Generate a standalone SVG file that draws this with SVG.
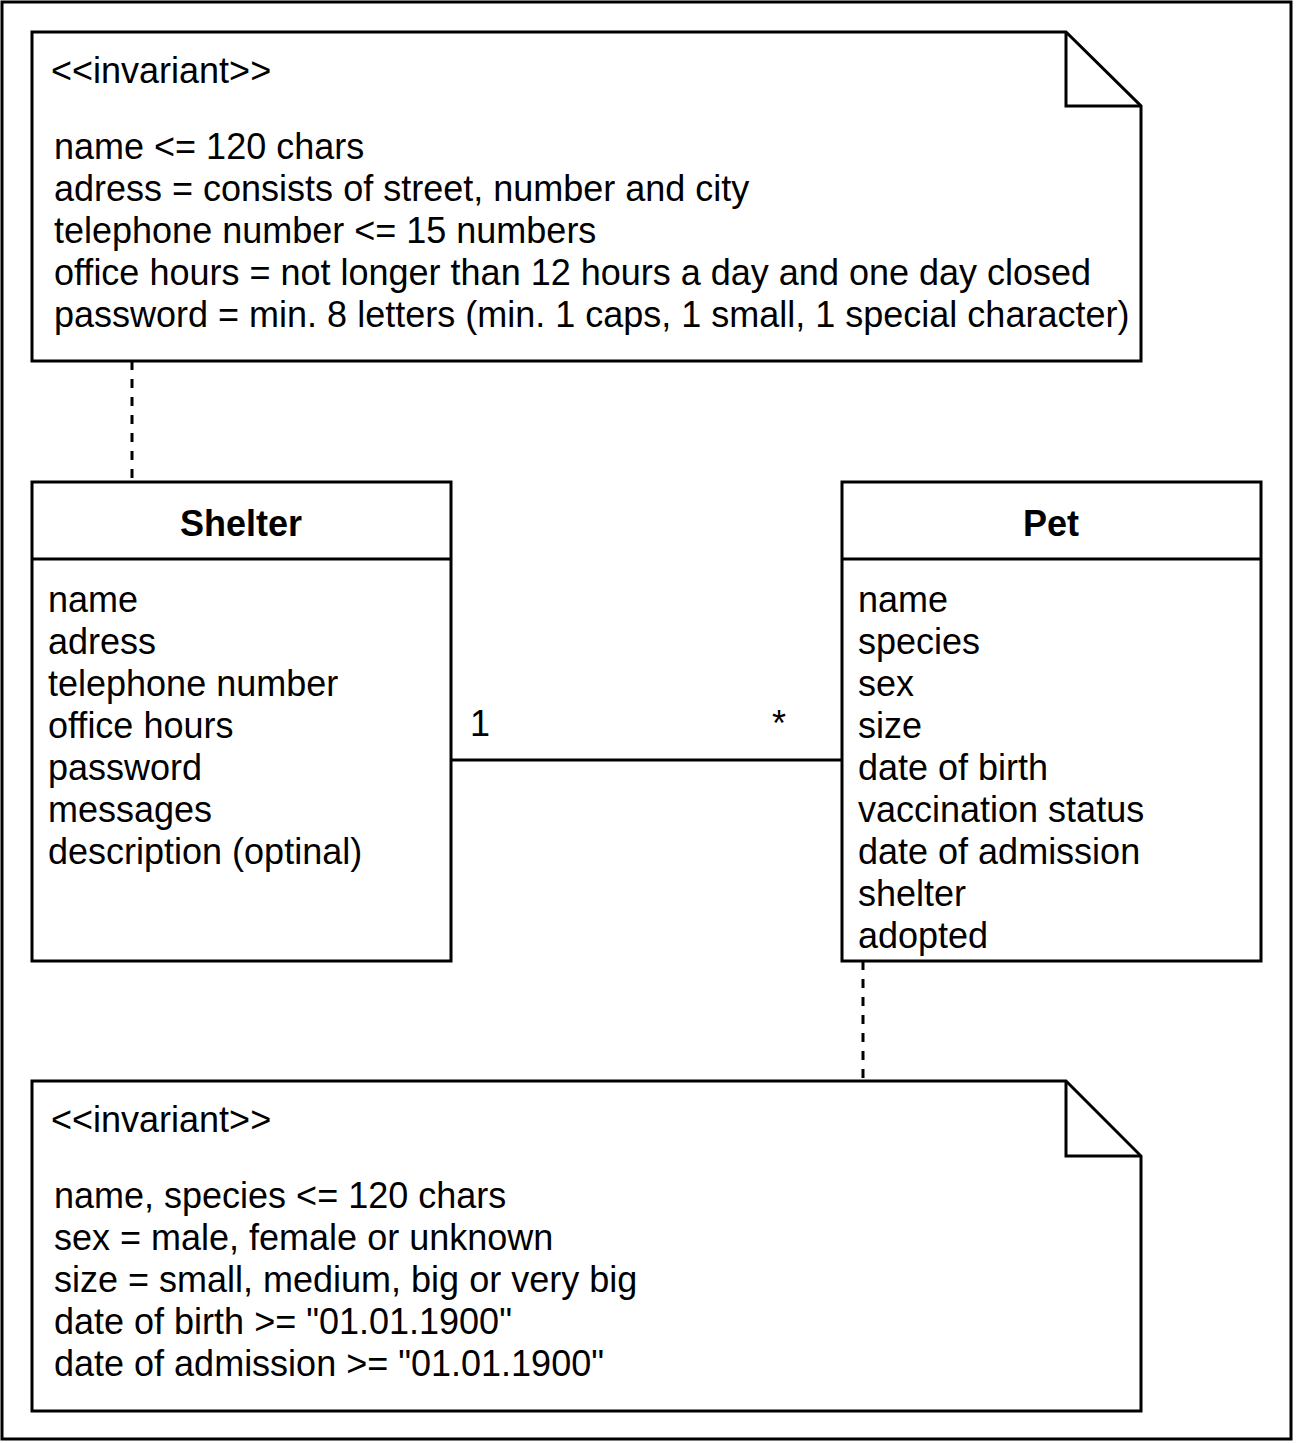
<svg xmlns="http://www.w3.org/2000/svg" width="1296" height="1443" viewBox="0 0 1296 1443">
<style>
.box{fill:#fff;stroke:#000;stroke-width:3}
.ln{fill:none;stroke:#000;stroke-width:3}
.dash{fill:none;stroke:#000;stroke-width:3;stroke-dasharray:9 9}
text{font-family:"Liberation Sans",Arial,sans-serif;font-size:36px;fill:#000}
.b{font-weight:bold;text-anchor:middle}
</style>
<rect x="0" y="0" width="1296" height="1443" fill="#fff"/>
<rect x="2" y="2" width="1289" height="1437" class="ln"/>
<g id="connectors">
<line x1="132" y1="361" x2="132" y2="482" class="dash"/>
<line x1="863" y1="961" x2="863" y2="1081" class="dash"/>
<line x1="451" y1="760" x2="842" y2="760" class="ln"/>
<text x="470" y="736">1</text>
<text x="772" y="736">*</text>
</g>
<g id="note1">
<path d="M32 32 H1066 L1141 106 V361 H32 Z" class="box"/>
<path d="M1066 32 V106 H1141" class="ln"/>
<text x="51" y="83">&lt;&lt;invariant&gt;&gt;</text>
<text x="54" y="159">name &lt;= 120 chars</text>
<text x="54" y="201">adress = consists of street, number and city</text>
<text x="54" y="243">telephone number &lt;= 15 numbers</text>
<text x="54" y="285">office hours = not longer than 12 hours a day and one day closed</text>
<text x="54" y="327">password = min. 8 letters (min. 1 caps, 1 small, 1 special character)</text>
</g>
<g id="shelter">
<rect x="32" y="482" width="419" height="479" class="box"/>
<line x1="32" y1="559" x2="451" y2="559" class="ln"/>
<text x="241" y="536" class="b">Shelter</text>
<text x="48" y="612">name</text>
<text x="48" y="654">adress</text>
<text x="48" y="696">telephone number</text>
<text x="48" y="738">office hours</text>
<text x="48" y="780">password</text>
<text x="48" y="822">messages</text>
<text x="48" y="864">description (optinal)</text>
</g>
<g id="pet">
<rect x="842" y="482" width="419" height="479" class="box"/>
<line x1="842" y1="559" x2="1261" y2="559" class="ln"/>
<text x="1051" y="536" class="b">Pet</text>
<text x="858" y="612">name</text>
<text x="858" y="654">species</text>
<text x="858" y="696">sex</text>
<text x="858" y="738">size</text>
<text x="858" y="780">date of birth</text>
<text x="858" y="822">vaccination status</text>
<text x="858" y="864">date of admission</text>
<text x="858" y="906">shelter</text>
<text x="858" y="948">adopted</text>
</g>
<g id="note2">
<path d="M32 1081 H1066 L1141 1156 V1411 H32 Z" class="box"/>
<path d="M1066 1081 V1156 H1141" class="ln"/>
<text x="51" y="1132">&lt;&lt;invariant&gt;&gt;</text>
<text x="54" y="1208">name, species &lt;= 120 chars</text>
<text x="54" y="1250">sex = male, female or unknown</text>
<text x="54" y="1292">size = small, medium, big or very big</text>
<text x="54" y="1334">date of birth &gt;= "01.01.1900"</text>
<text x="54" y="1376">date of admission &gt;= "01.01.1900"</text>
</g>
</svg>
